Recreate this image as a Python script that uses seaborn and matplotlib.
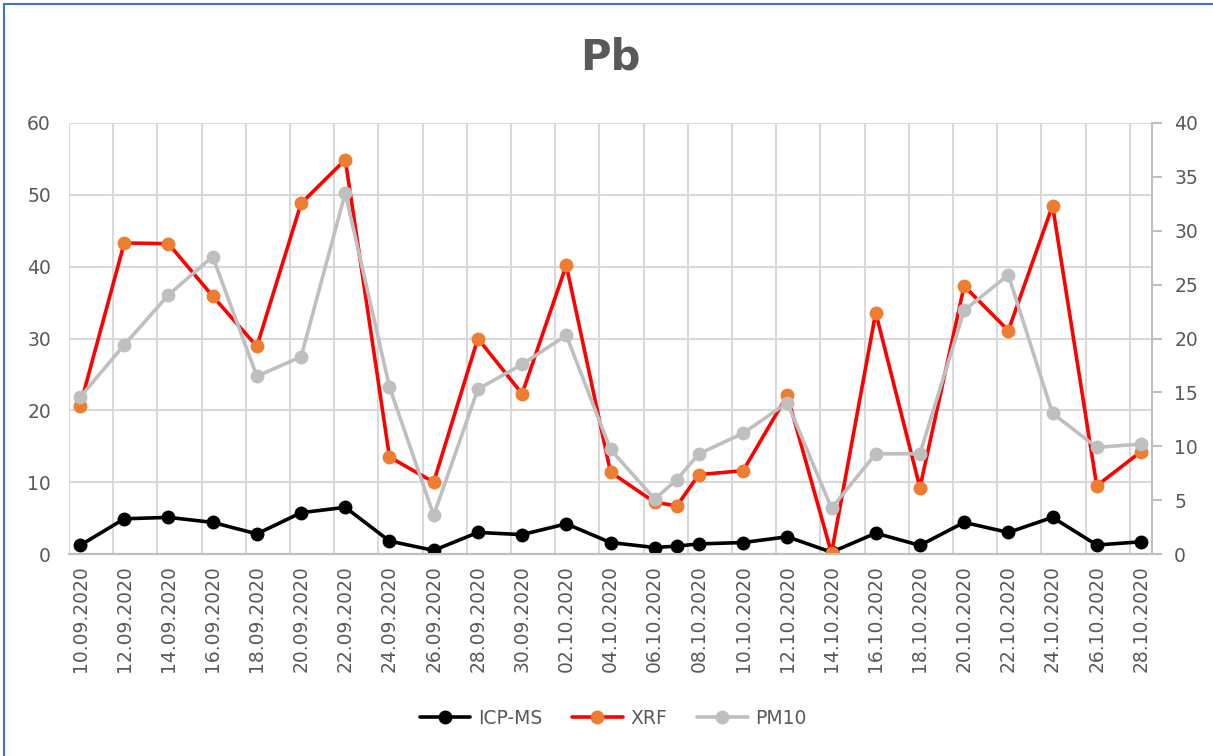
import pandas as pd
import seaborn as sns
import matplotlib.pyplot as plt
import matplotlib.dates as mdates
from matplotlib.lines import Line2D

sns.set_style("white")
plt.rcParams['font.family'] = ['DejaVu Sans']

dates = ["10.09.2020", "12.09.2020", "14.09.2020", "16.09.2020", "18.09.2020",
         "20.09.2020", "22.09.2020", "24.09.2020", "26.09.2020", "28.09.2020",
         "30.09.2020", "02.10.2020", "04.10.2020", "06.10.2020", "07.10.2020",
         "08.10.2020", "10.10.2020", "12.10.2020", "14.10.2020", "16.10.2020",
         "18.10.2020", "20.10.2020", "22.10.2020", "24.10.2020", "26.10.2020",
         "28.10.2020"]
icp_ms = [1.2, 4.9, 5.1, 4.4, 2.8, 5.75, 6.5, 1.8, 0.5, 3.0, 2.7, 4.2, 1.6,
          0.9, 1.1, 1.4, 1.6, 2.4, 0.25, 2.9, 1.2, 4.4, 3.0, 5.1, 1.25, 1.7]
xrf = [20.6, 43.3, 43.2, 35.9, 28.9, 48.8, 54.9, 13.5, 10.0, 30.0, 22.3, 40.2,
       11.4, 7.2, 6.7, 11.05, 11.6, 22.1, 0.1, 33.6, 9.25, 37.3, 31.1, 48.5,
       9.5, 14.25]
pm10 = [14.55, 19.4, 24.05, 27.6, 16.5, 18.3, 33.5, 15.5, 3.6, 15.3, 17.6,
        20.3, 9.7, 5.1, 6.9, 9.3, 11.2, 14.05, 4.25, 9.3, 9.3, 22.6, 25.9,
        13.05, 9.9, 10.2]

df = pd.DataFrame({"date": pd.to_datetime(dates, format="%d.%m.%Y"),
                   "ICP-MS": icp_ms, "XRF": xrf, "PM10": pm10})

grey_txt = "#595959"
grid_c = "#D9D9D9"

fig = plt.figure(figsize=(12.13, 7.56), dpi=100)
ax = fig.add_axes([69 / 1213, 1 - 554 / 756, (1152 - 69) / 1213, (554 - 123) / 756])
ax2 = ax.twinx()

sns.lineplot(data=df, x="date", y="ICP-MS", ax=ax, color="black", lw=2.6,
             marker="o", markersize=10, markeredgewidth=0, zorder=3)
sns.lineplot(data=df, x="date", y="XRF", ax=ax, color="#FF0000", lw=2.6,
             marker="o", markersize=10, markerfacecolor="#ED7D31",
             markeredgewidth=0, zorder=4)
sns.lineplot(data=df, x="date", y="PM10", ax=ax2, color="#BFBFBF", lw=2.6,
             marker="o", markersize=10, markeredgewidth=0, zorder=3)

start = df["date"].iloc[0] - pd.Timedelta(hours=12)
end = df["date"].iloc[-1] + pd.Timedelta(hours=12)
ax.set_xlim(start, end)
ax.set_ylim(0, 60)
ax2.set_ylim(0, 40)
ax.set_yticks(range(0, 61, 10))
ax2.set_yticks(range(0, 41, 5))

major = pd.date_range(df["date"].iloc[0], df["date"].iloc[-1], freq="2D")
ax.set_xticks(major)
ax.xaxis.set_major_formatter(mdates.DateFormatter("%d.%m.%Y"))
minor = pd.date_range(start, end, freq="2D")
ax.set_xticks(minor, minor=True)
ax.grid(False)
ax.grid(True, which="minor", axis="x", color=grid_c, lw=1.5)
ax.grid(True, which="major", axis="y", color=grid_c, lw=1.5)
ax.set_axisbelow(True)
ax2.grid(False)

ax.tick_params(axis="x", which="both", length=0, labelrotation=90,
               labelsize=13.5, labelcolor=grey_txt, pad=8)
ax.tick_params(axis="y", length=0, labelsize=13.5, labelcolor=grey_txt, pad=13)
ax2.tick_params(axis="y", length=7, width=1.5, color="#BFBFBF", direction="out",
                labelsize=13.5, labelcolor=grey_txt, pad=9)

ax.set_xlabel("")
ax.set_ylabel("")
ax2.set_ylabel("")
for a in (ax, ax2):
    for s in ("top", "left"):
        a.spines[s].set_visible(False)
    a.spines["right"].set_visible(False)
    a.spines["bottom"].set_color("#BFBFBF")
    a.spines["bottom"].set_linewidth(1.5)
ax2.spines["right"].set_visible(True)
ax2.spines["right"].set_color("#BFBFBF")
ax2.spines["right"].set_linewidth(1.5)

fig.text(610 / 1213, 1 - 58 / 756, "Pb", ha="center", va="center",
         fontsize=30, fontweight="bold", color=grey_txt)

handles = [
    Line2D([], [], color="black", lw=2.6, marker="o", markersize=10, markeredgewidth=0),
    Line2D([], [], color="#FF0000", lw=2.6, marker="o", markersize=10,
           markerfacecolor="#ED7D31", markeredgewidth=0),
    Line2D([], [], color="#BFBFBF", lw=2.6, marker="o", markersize=10, markeredgewidth=0),
]
fig.legend(handles, ["ICP-MS", "XRF", "PM10"], loc="center",
           bbox_to_anchor=(613 / 1213, 1 - 718 / 756), ncol=3, frameon=False,
           fontsize=13.5, labelcolor=grey_txt, handlelength=2.7,
           handletextpad=0.4, columnspacing=1.6)

border = "#4472C4"
fig.add_artist(Line2D([4 / 1213, 4 / 1213], [0, 1 - 4 / 756], color=border, lw=1.5))
fig.add_artist(Line2D([4 / 1213, 1], [1 - 4 / 756, 1 - 4 / 756], color=border, lw=1.5))

fig.savefig("out.png", dpi=100)
